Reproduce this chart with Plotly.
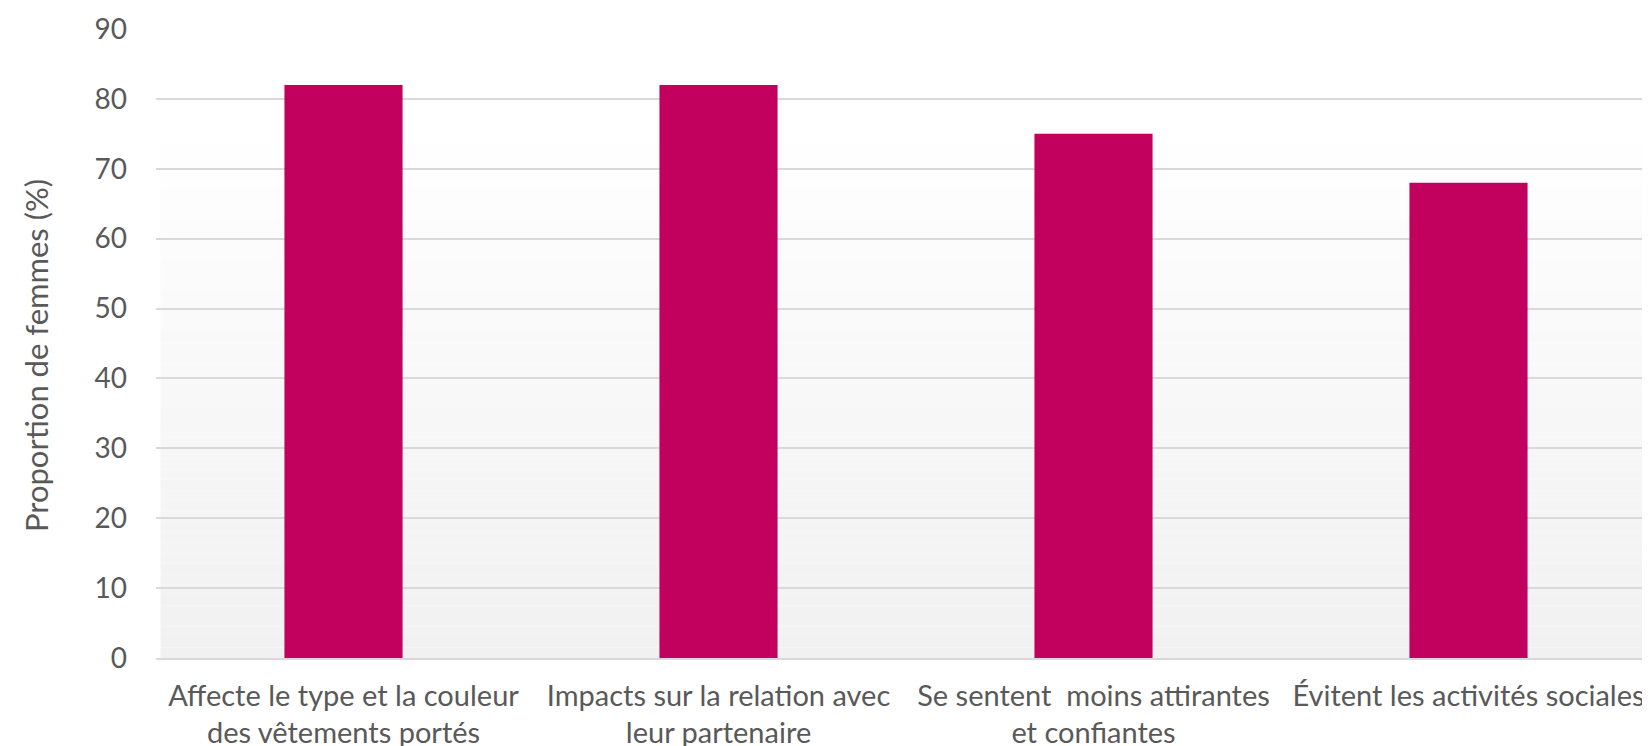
import plotly.graph_objects as go

categories = [
    "Affecte le type et la couleur<br>des vêtements portés",
    "Impacts sur la relation avec<br>leur partenaire",
    "Se sentent  moins attirantes<br>et confiantes",
    "Évitent les activités sociales",
]
values = [82, 82, 75, 68]
y_ticks = [0, 10, 20, 30, 40, 50, 60, 70, 80, 90]
y_title = "Proportion de femmes (%)"

BAR_COLOR = "#C2005E"
TEXT_COLOR = "#595959"
GRID_COLOR = "#D9D9D9"
FONT = "Lato, 'Open Sans', sans-serif"

fig = go.Figure(
    go.Bar(x=categories, y=values, marker=dict(color=BAR_COLOR, line=dict(width=0)), width=0.315)
)

# gradient background of the plot area (white at top -> light grey at bottom)
n_bands = 60
shapes = []
for i in range(n_bands):
    t = i / (n_bands - 1)  # 0 bottom -> 1 top
    g = int(round(241 + (255 - 241) * min(1.0, t / 0.85)))
    shapes.append(dict(
        type="rect", xref="x domain", yref="y domain",
        x0=0.003, x1=0.993, y0=i / n_bands, y1=(i + 1) / n_bands,
        fillcolor=f"rgb({g},{g},{g})", line=dict(width=0), layer="below",
    ))

fig.update_layout(
    width=1650, height=746,
    margin=dict(l=148, r=2, t=21, b=96),
    paper_bgcolor="white",
    plot_bgcolor="rgba(0,0,0,0)",
    font=dict(family=FONT, color=TEXT_COLOR, size=29),
    showlegend=False,
    shapes=shapes,
    bargap=0.685,
    annotations=[dict(
        text=y_title, textangle=-90, xref="paper", yref="paper",
        x=-0.08, y=0.48, xanchor="center", yanchor="middle", showarrow=False,
        font=dict(size=31, color=TEXT_COLOR, family=FONT),
    )],
)
fig.update_yaxes(
    range=[0, 90], tickvals=y_ticks, showgrid=True, gridcolor=GRID_COLOR, gridwidth=1.5,
    zeroline=False, showline=False, ticks="", ticklabelstandoff=28,
    ticklabeloverflow="allow",
    tickfont=dict(size=28, color=TEXT_COLOR),
    layer="below traces",
)
fig.update_xaxes(
    showgrid=False, showline=True, linecolor=GRID_COLOR, linewidth=1.5, ticks="",
    tickfont=dict(size=29, color=TEXT_COLOR), ticklabelstandoff=11,
    ticklabeloverflow="allow",
    layer="below traces",
)

fig.write_html("out.html")
